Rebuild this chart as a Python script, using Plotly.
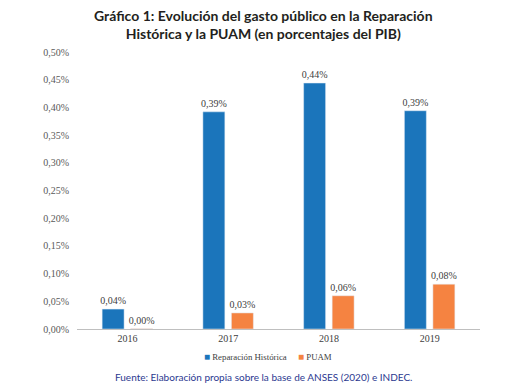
import plotly.graph_objects as go

years = ["2016", "2017", "2018", "2019"]
reparacion = [0.036, 0.392, 0.444, 0.394]
puam = [0.0005, 0.029, 0.060, 0.081]
series_names = ["Reparación Histórica", "PUAM"]
series_colors = ["#1B75BB", "#F58341"]
y_ticks = [0, 0.05, 0.10, 0.15, 0.20, 0.25, 0.30, 0.35, 0.40, 0.45, 0.50]

def fmt(v):
    return f"{v:.2f}%".replace(".", ",")

serif = "Liberation Serif"
label_font = dict(family=serif, size=10, color="#404040")

# plot area in pixels
L, R, T, B = 77, 43, 52, 62
W, H = 523, 391
pw, ph = W - L - R, H - T - B

def px_x(p):
    return (p - L) / pw

def px_y(p):
    return (H - B - p) / ph

fig = go.Figure()
for name, vals, col in zip(series_names, [reparacion, puam], series_colors):
    fig.add_trace(go.Bar(
        x=years, y=vals, name=name,
        marker=dict(color=col),
        text=[fmt(v) for v in vals], textposition="outside",
        textfont=label_font, outsidetextfont=label_font,
        constraintext="none", cliponaxis=False,
    ))

fig.update_layout(
    width=W, height=H,
    paper_bgcolor="white", plot_bgcolor="white",
    margin=dict(l=L, r=R, t=T, b=B, autoexpand=False),
    barmode="group", bargap=0.434, bargroupgap=0.23,
    showlegend=False,
    xaxis=dict(
        showline=True, linecolor="#BFBFBF", linewidth=1,
        showgrid=False, ticks="", automargin=False,
        tickfont=dict(family=serif, size=10, color="#404040"),
    ),
    yaxis=dict(
        range=[0, 0.5], showgrid=False, zeroline=False, showline=False,
        tickvals=y_ticks, ticktext=[fmt(v) for v in y_ticks],
        tickfont=dict(family=serif, size=10, color="#595959"),
        ticklabelstandoff=7, automargin=False,
    ),
)

# legend (compact, Excel-style)
legend_x = [202, 296]
for name, col, lx in zip(series_names, series_colors, legend_x):
    fig.add_annotation(
        text=f"<span style='color:{col};font-size:10px'>■</span> {name}",
        xref="paper", yref="paper", x=px_x(lx), y=px_y(356),
        xanchor="left", yanchor="middle", showarrow=False,
        font=dict(family=serif, size=8.8, color="#404040"),
    )

fig.add_annotation(
    text="Gráfico 1: Evolución del gasto público en la Reparación<br>Histórica y la PUAM (en porcentajes del PIB)",
    xref="paper", yref="paper", x=px_x(263.5), y=px_y(25), xanchor="center", yanchor="middle",
    showarrow=False,
    font=dict(family="Lato", size=14, color="#231F20", weight="bold"),
)

fig.add_annotation(
    text="Fuente: Elaboración propia sobre la base de ANSES (2020) e INDEC.",
    xref="paper", yref="paper", x=px_x(263), y=px_y(377), xanchor="center", yanchor="middle",
    showarrow=False,
    font=dict(family="Lato", size=10, color="#2B3990"),
)

fig.write_html("out.html", config={"displayModeBar": False},
               post_script="document.body.style.margin='0';")
